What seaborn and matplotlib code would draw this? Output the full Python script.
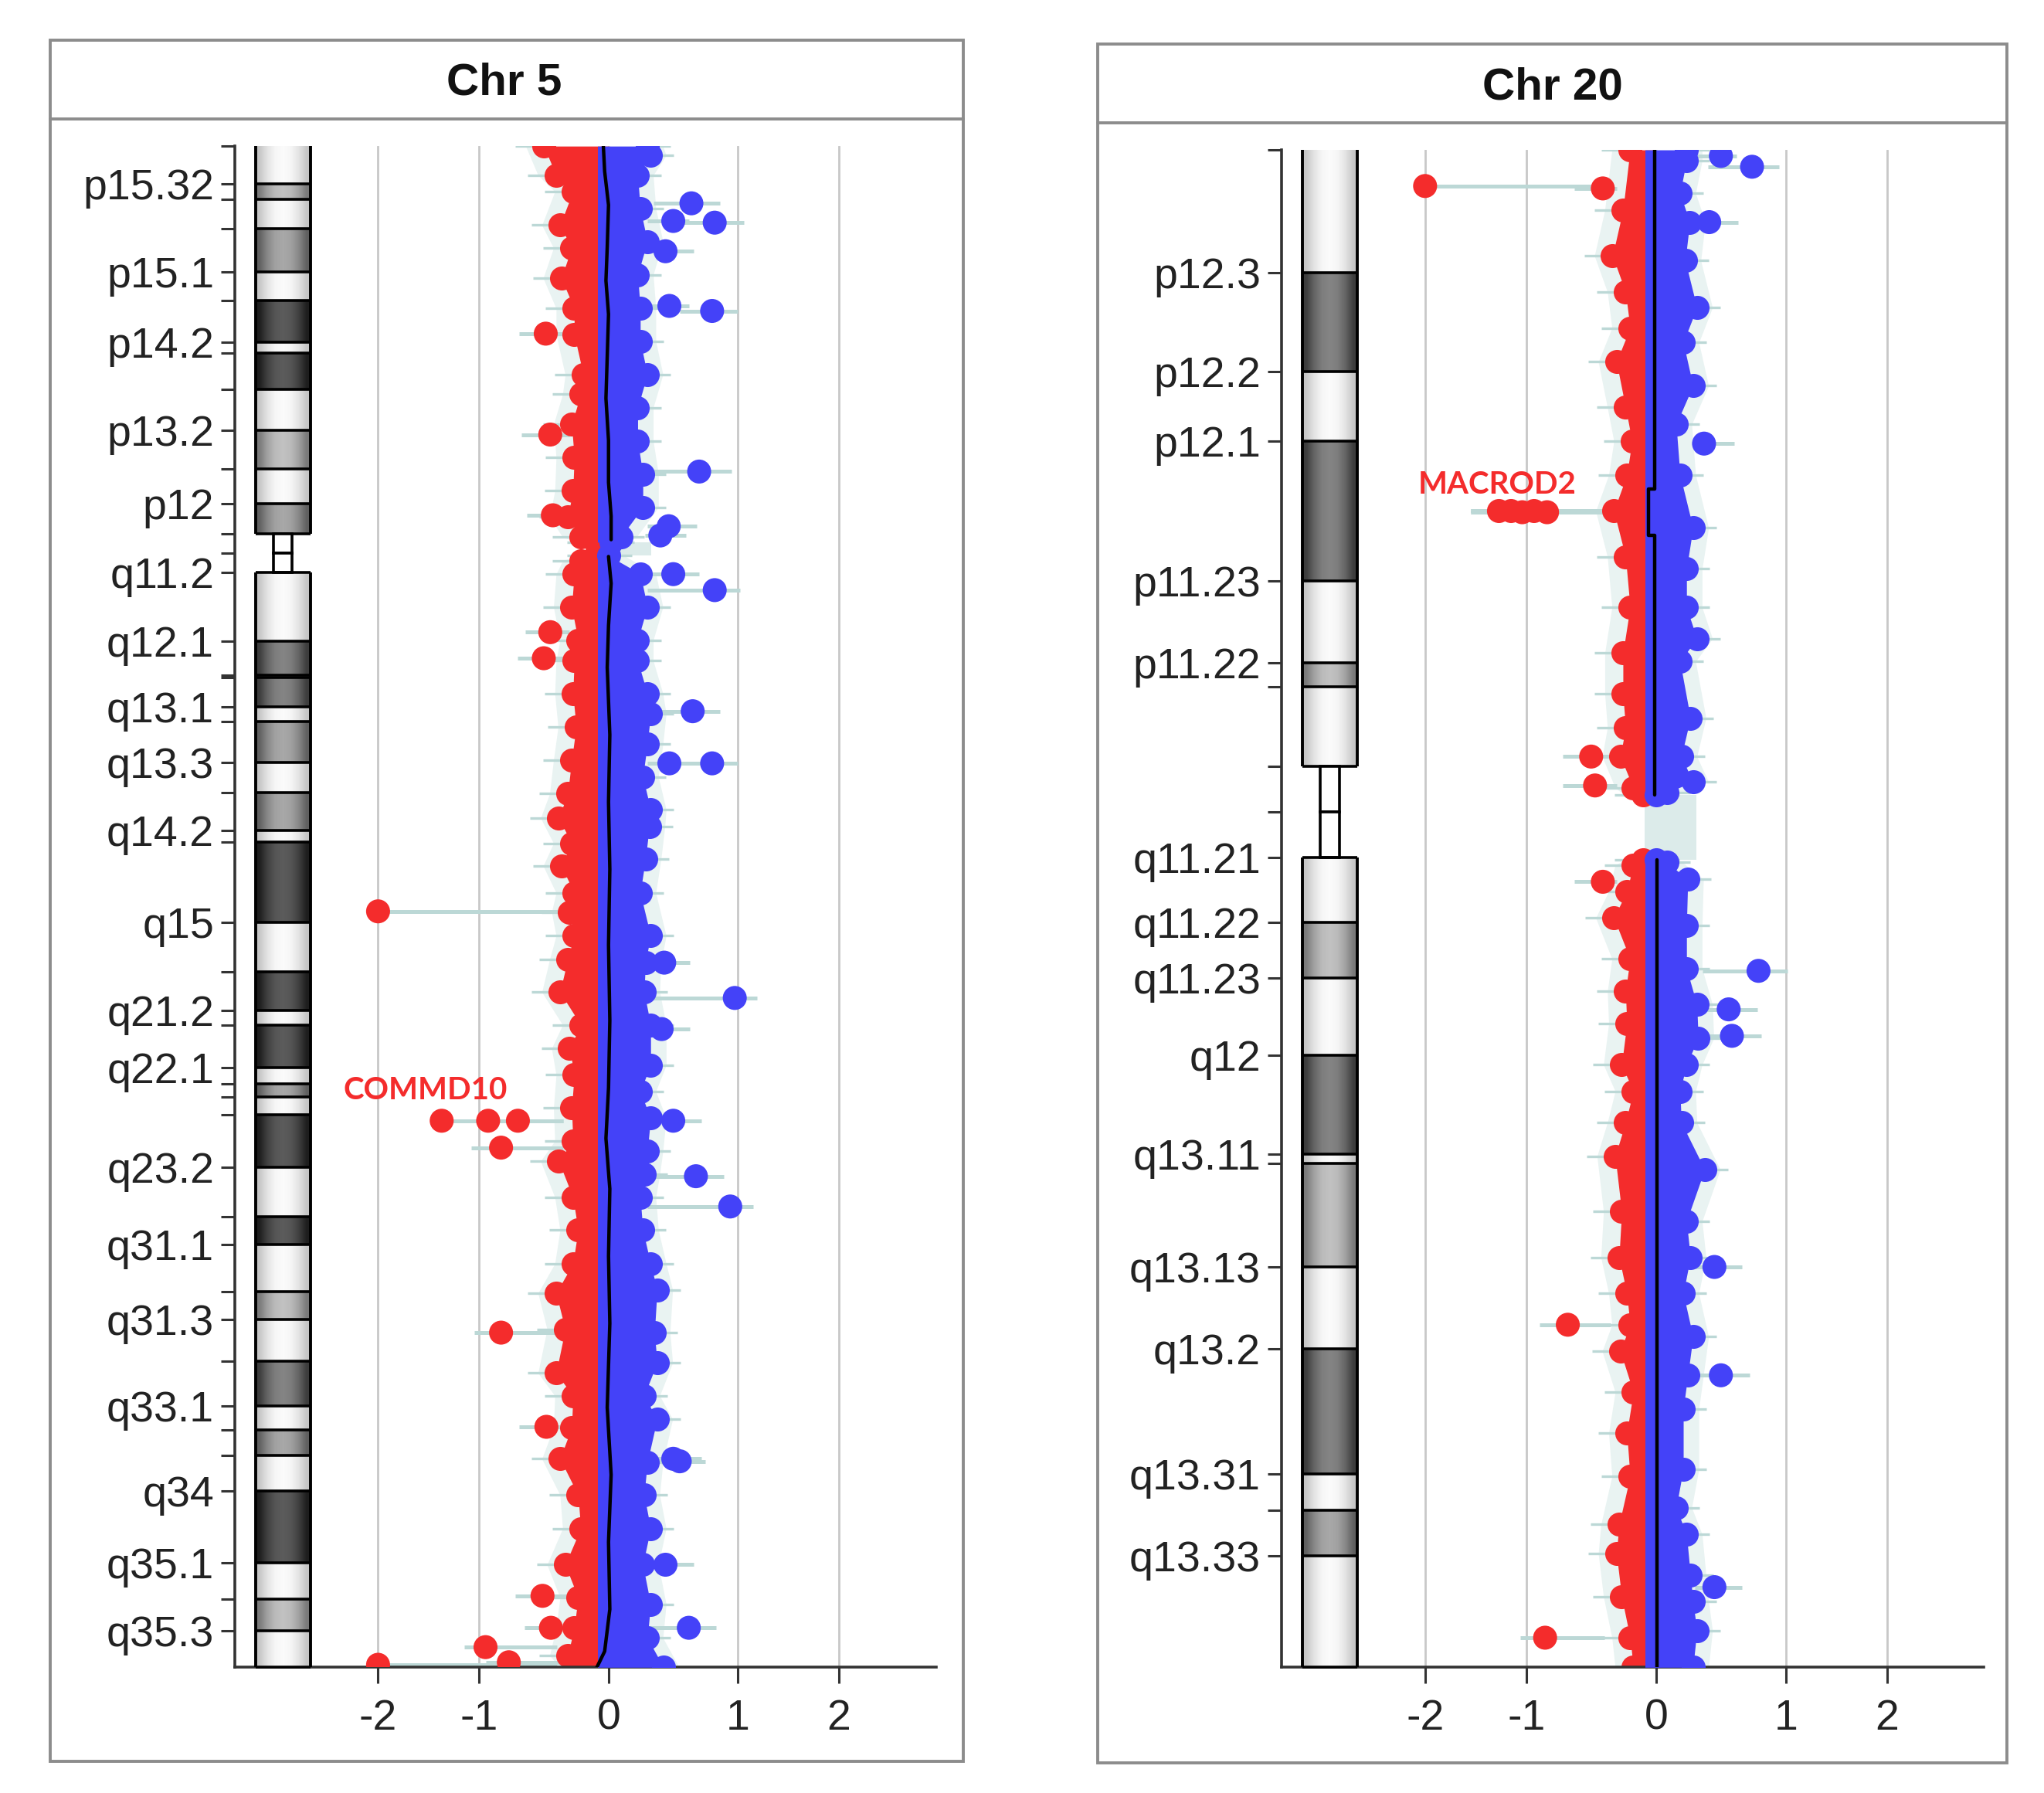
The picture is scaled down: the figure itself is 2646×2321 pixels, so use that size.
import numpy as np
import pandas as pd
import seaborn as sns
import matplotlib.pyplot as plt
from matplotlib.patches import Rectangle
from matplotlib.lines import Line2D

# ---------------- Chr 5 ----------------
# cytobands (start in Mb)
chr5_band_names = ['p15.33', 'p15.32', 'p15.31', 'p15.2', 'p15.1', 'p14.3', 'p14.2', 'p14.1', 'p13.3', 'p13.2',
                   'p13.1', 'p12', 'p11', 'q11.1', 'q11.2', 'q12.1', 'q12.2', 'q12.3', 'q13.1', 'q13.2',
                   'q13.3', 'q14.1', 'q14.2', 'q14.3', 'q15', 'q21.1', 'q21.2', 'q21.3', 'q22.1', 'q22.2',
                   'q22.3', 'q23.1', 'q23.2', 'q23.3', 'q31.1', 'q31.2', 'q31.3', 'q32', 'q33.1', 'q33.2',
                   'q33.3', 'q34', 'q35.1', 'q35.2', 'q35.3']
chr5_band_start = [0.0, 4.5, 6.3, 9.8, 15.0, 18.4, 23.3, 24.6, 28.9, 33.8,
                   38.4, 42.5, 46.1, 48.4, 50.7, 58.9, 62.9, 63.2, 66.7, 68.4,
                   73.3, 76.9, 81.4, 82.8, 92.3, 98.2, 102.8, 104.5, 109.6, 111.5,
                   113.1, 115.2, 121.4, 127.3, 130.6, 136.2, 139.5, 144.5, 149.8, 152.7,
                   155.7, 159.9, 168.5, 172.8, 176.6]
chr5_band_stain = ['gneg', 'gpos25', 'gneg', 'gpos50', 'gneg', 'gpos100', 'gneg', 'gpos100', 'gneg', 'gpos25',
                   'gneg', 'gpos50', 'acen', 'acen', 'gneg', 'gpos75', 'gneg', 'gpos75', 'gneg', 'gpos50',
                   'gneg', 'gpos50', 'gneg', 'gpos100', 'gneg', 'gpos100', 'gneg', 'gpos100', 'gneg', 'gpos50',
                   'gneg', 'gpos100', 'gneg', 'gpos100', 'gneg', 'gpos25', 'gneg', 'gpos75', 'gneg', 'gpos50',
                   'gneg', 'gpos100', 'gneg', 'gpos25', 'gneg']
chr5_length = 180.9
chr5_tick_names = ['p15.32', 'p15.1', 'p14.2', 'p13.2', 'p12', 'q11.2', 'q12.1', 'q13.1', 'q13.3', 'q14.2',
                   'q15', 'q21.2', 'q22.1', 'q23.2', 'q31.1', 'q31.3', 'q33.1', 'q34', 'q35.1', 'q35.3']

# outermost gene scores of the dense cloud (lowest / highest per window)
chr5_low_pos = [0.0, 3.45, 5.4, 9.4, 12.1, 15.7, 19.3, 22.4, 27.2, 29.5, 33.1, 37.0, 41.0, 44.1, 46.5, 47.1,
                48.7, 49.3, 50.9, 54.8, 58.75,
                61.2, 65.1, 69.1, 73.0, 77.0, 79.9, 82.9, 85.6, 88.8, 91.1, 93.9, 96.7, 100.6, 104.5, 107.3,
                110.45, 114.4, 118.3, 120.7,
                125.0, 128.9, 132.9, 136.4, 140.7, 145.9, 148.6, 152.4, 156.1, 160.4, 164.4, 168.7, 172.6,
                176.2, 179.5, 180.9]
chr5_low = [-0.50, -0.405, -0.275, -0.375, -0.285, -0.365, -0.265, -0.265, -0.195, -0.215, -0.285, -0.265,
            -0.275, -0.315, -0.215, -0.10,
            -0.10, -0.215, -0.265, -0.285, -0.235,
            -0.265, -0.275, -0.25, -0.285, -0.315, -0.385, -0.285, -0.365, -0.265, -0.30, -0.265, -0.315,
            -0.375, -0.215, -0.30, -0.265, -0.285, -0.275, -0.385,
            -0.275, -0.235, -0.275, -0.405, -0.335, -0.405, -0.275, -0.285, -0.375, -0.235, -0.215, -0.335,
            -0.235, -0.265, -0.315, -0.235]
chr5_high_pos = [0.0, 1.1, 3.45, 7.4, 11.35, 15.3, 19.25, 23.2, 27.15, 31.1, 35.05, 39.0, 42.95, 46.5, 47.1,
                 48.7, 50.85, 54.8, 58.75,
                 61.2, 65.1, 67.5, 71.1, 75.0, 78.9, 80.9, 84.8, 88.8, 93.9, 97.1, 100.6, 104.5, 109.3, 112.4,
                 115.6, 119.5, 122.3,
                 125.0, 128.9, 132.9, 136.0, 141.1, 144.7, 148.6, 151.4, 156.5, 160.4, 164.4, 168.7, 173.4,
                 177.4, 180.9]
chr5_high = [0.30, 0.325, 0.225, 0.245, 0.30, 0.225, 0.245, 0.245, 0.30, 0.225, 0.225, 0.265, 0.265, 0.095, 0.02,
             0.0, 0.245, 0.30, 0.225,
             0.225, 0.30, 0.325, 0.30, 0.265, 0.325, 0.315, 0.285, 0.245, 0.325, 0.285, 0.275, 0.325, 0.325,
             0.245, 0.325, 0.30, 0.275,
             0.245, 0.265, 0.325, 0.375, 0.355, 0.375, 0.275, 0.375, 0.30, 0.275, 0.325, 0.265, 0.325, 0.30, 0.425]
# running segment mean (black line)
chr5_mean_pos = [0.0, 3.0, 7.0, 12.0, 16.0, 20.0, 25.0, 30.0, 35.0, 40.0, 44.0, 46.8,
                 48.8, 52.0, 57.0, 62.0, 70.0, 78.0, 86.0, 95.0, 104.0, 112.0, 118.0, 124.0, 132.0, 140.0,
                 150.0, 158.0, 166.0, 174.0, 179.0, 180.9]
chr5_mean = [-0.04, -0.03, 0.0, -0.01, -0.02, 0.0, -0.01, -0.02, 0.0, 0.0, 0.02, 0.02,
             0.0, 0.02, 0.0, -0.01, 0.01, 0.0, 0.01, 0.0, 0.01, 0.0, -0.02, 0.01, 0.0, 0.01,
             -0.01, 0.02, 0.0, 0.01, -0.03, -0.09]
chr5_gap = [47.1, 48.7]
chr5_gap_x = [-0.05, 0.33]

# single outlying genes: position, score, CI low, CI high
chr5_out_pos = [6.8, 8.9, 9.1, 12.5, 19.0, 19.6, 38.7, 45.2, 46.3, 50.9, 52.8, 67.2, 73.4, 73.4, 97.1, 101.3,
                105.0, 115.9, 122.5, 126.1, 156.1, 156.4, 168.7, 176.2,
                22.3, 34.3, 43.9, 57.8, 60.9, 91.0, 115.9, 115.9, 115.9, 119.1, 141.1, 152.3, 172.4, 176.2,
                178.5, 180.3, 180.6]
chr5_out_val = [0.64, 0.50, 0.82, 0.44, 0.47, 0.80, 0.70, 0.465, 0.40, 0.50, 0.82, 0.65, 0.47, 0.80, 0.43, 0.975,
                0.41, 0.50, 0.675, 0.94, 0.50, 0.55, 0.44, 0.62,
                -0.485, -0.45, -0.43, -0.45, -0.50, -2.0, -1.37, -0.93, -0.70, -0.83, -0.83, -0.48, -0.51,
                -0.445, -0.95, -0.77, -2.0]
chr5_out_lo = [0.35, 0.30, 0.55, 0.30, 0.30, 0.55, 0.30, 0.30, 0.28, 0.30, 0.30, 0.30, 0.30, 0.50, 0.30, 0.30,
               0.30, 0.30, 0.35, 0.30, 0.30, 0.30, 0.30, 0.30,
               -0.69, -0.67, -0.63, -0.64, -0.70, -2.0, -1.45, -1.10, -0.90, -1.08, -1.05, -0.69, -0.72,
               -0.65, -1.15, -0.95, -2.0]
chr5_out_hi = [0.86, 0.62, 1.06, 0.66, 0.62, 1.00, 0.95, 0.68, 0.60, 0.70, 1.02, 0.86, 0.62, 1.00, 0.63, 1.19,
               0.63, 0.72, 0.89, 1.15, 0.72, 0.75, 0.66, 0.83,
               -0.30, -0.30, -0.30, -0.30, -0.30, -0.38, -0.35, -0.40, -0.35, -0.35, -0.35, -0.30, -0.30,
               -0.30, -0.40, -0.35, -0.40]
chr5_label = ('COMMD10', -1.53, 112.3)

# ---------------- Chr 20 ----------------
chr20_band_names = ['p13', 'p12.3', 'p12.2', 'p12.1', 'p11.23', 'p11.22', 'p11.21', 'p11.1', 'q11.1', 'q11.21',
                    'q11.22', 'q11.23', 'q12', 'q13.11', 'q13.12', 'q13.13', 'q13.2', 'q13.31', 'q13.32', 'q13.33']
chr20_band_start = [0.0, 5.1, 9.2, 12.1, 17.9, 21.3, 22.3, 25.6, 27.5, 29.4,
                    32.1, 34.4, 37.6, 41.7, 42.1, 46.4, 49.8, 55.0, 56.5, 58.4]
chr20_band_stain = ['gneg', 'gpos75', 'gneg', 'gpos75', 'gneg', 'gpos25', 'gneg', 'acen', 'acen', 'gneg',
                    'gpos25', 'gneg', 'gpos75', 'gneg', 'gpos25', 'gneg', 'gpos75', 'gneg', 'gpos50', 'gneg']
chr20_length = 63.03
chr20_tick_names = ['p12.3', 'p12.2', 'p12.1', 'p11.23', 'p11.22', 'q11.21', 'q11.22', 'q11.23', 'q12',
                    'q13.11', 'q13.13', 'q13.2', 'q13.31', 'q13.33']

chr20_low_pos = [0.0, 2.5, 4.4, 5.9, 7.4, 8.8, 10.7, 12.1, 13.5, 15.0, 16.9, 19.0, 20.9, 22.6, 24.0, 25.2,
                 26.5, 26.8,
                 29.5, 29.7, 30.8, 31.9, 33.6, 34.95, 36.3, 38.0, 39.1, 40.4, 41.8,
                 44.1, 46.0, 47.5, 48.8, 49.9, 51.6, 53.3, 55.1, 57.1, 58.3, 60.1, 61.8, 63.03]
chr20_low = [-0.20, -0.255, -0.335, -0.235, -0.20, -0.305, -0.235, -0.185, -0.225, -0.325, -0.235, -0.20,
             -0.255, -0.255, -0.235, -0.275, -0.175, -0.10,
             -0.10, -0.175, -0.225, -0.325, -0.20, -0.235, -0.225, -0.265, -0.175, -0.235, -0.315,
             -0.265, -0.285, -0.225, -0.20, -0.275, -0.175, -0.225, -0.20, -0.285, -0.305, -0.265, -0.20, -0.175]
chr20_high_pos = [0.0, 0.45, 1.8, 3.0, 4.6, 6.55, 8.0, 9.8, 11.4, 13.5, 15.7, 17.4, 19.0, 20.3, 21.25, 23.6,
                  25.2, 26.25, 26.7, 26.8,
                  29.5, 29.6, 30.3, 32.2, 34.0, 35.5, 36.9, 38.0, 39.1, 40.4, 42.35,
                  44.5, 46.0, 47.5, 49.3, 50.9, 52.3, 54.8, 56.4, 57.5, 59.2, 60.3, 61.5, 63.03]
chr20_high = [0.235, 0.235, 0.185, 0.26, 0.225, 0.315, 0.21, 0.285, 0.155, 0.185, 0.285, 0.235, 0.235, 0.315,
              0.185, 0.265, 0.195, 0.285, 0.085, 0.0,
              0.0, 0.085, 0.245, 0.235, 0.235, 0.315, 0.325, 0.235, 0.185, 0.195, 0.375,
              0.235, 0.265, 0.21, 0.285, 0.245, 0.21, 0.21, 0.155, 0.235, 0.265, 0.285, 0.315, 0.285]
chr20_mean_pos = [0.0, 14.1, 14.1, 16.0, 16.0, 26.8, 29.5, 63.03]
chr20_mean = [-0.01, -0.01, -0.06, -0.06, -0.01, -0.01, 0.01, 0.01]
chr20_gap = [26.8, 29.5]
chr20_gap_x = [-0.085, 0.31]

chr20_out_pos = [0.25, 0.7, 3.0, 12.2, 34.1, 35.7, 36.8, 46.4, 50.9, 59.7,
                 1.5, 1.6, 15.0, 15.0, 15.05, 15.0, 15.05, 25.2, 26.4, 30.4, 48.8, 61.8]
chr20_out_val = [0.50, 0.74, 0.41, 0.37, 0.79, 0.56, 0.585, 0.45, 0.50, 0.45,
                 -2.0, -0.41, -1.27, -1.15, -1.04, -0.94, -0.84, -0.50, -0.47, -0.41, -0.68, -0.855]
chr20_out_lo = [0.30, 0.40, 0.30, 0.28, 0.36, 0.35, 0.35, 0.30, 0.30, 0.30,
                -2.0, -0.63, -1.55, -1.55, -1.55, -1.55, -1.55, -0.72, -0.72, -0.63, -0.90, -1.06]
chr20_out_hi = [0.62, 0.95, 0.63, 0.60, 1.02, 0.78, 0.81, 0.66, 0.72, 0.66,
                -0.41, -0.30, -0.40, -0.40, -0.40, -0.40, -0.40, -0.30, -0.30, -0.30, -0.35, -0.40]
chr20_label = ('MACROD2', -1.29, 13.9)

# ---------------- style ----------------
RED = '#f42c2c'
BLUE = '#4442f8'
CI_C = '#bcd8d6'
HALO_C = '#e9f3f2'
GAP_C = '#dcebea'
GRID_C = '#c8c8c8'
AX_C = '#333333'
BOX_C = '#8c8c8c'
OUTER = 0.78      # compression of the axis beyond |x| = 1
S = 125
SPLIT = -0.085
stain_shade = {'gneg': (0.78, 0.985), 'gpos25': (0.48, 0.76), 'gpos50': (0.38, 0.66),
               'gpos75': (0.24, 0.52), 'gpos100': (0.12, 0.36)}
shade_profile = np.array([0.0, 0.55, 0.9, 1.0, 0.9, 0.55, 0.0])

sns.set_style('ticks')
plt.rcParams['font.family'] = ['Liberation Sans', 'DejaVu Sans']
plt.rcParams['axes.unicode_minus'] = False


def fwd(x):
    x = np.asarray(x, dtype=float)
    return np.where(np.abs(x) <= 1, x, np.sign(x) * (1 + OUTER * (np.abs(x) - 1)))


def inv(y):
    y = np.asarray(y, dtype=float)
    return np.where(np.abs(y) <= 1, y, np.sign(y) * (1 + (np.abs(y) - 1) / OUTER))


def arms(pos, gap):
    pos = np.asarray(pos)
    return [pos <= gap[0], pos >= gap[1]]


def draw_ideogram(ax, starts, stains, length):
    ideo = ax.inset_axes([0.030, 0.0, 0.078, 1.0])
    ends = list(starts[1:]) + [length]
    acen = [i for i, s in enumerate(stains) if s == 'acen']
    for i, (s0, s1, st) in enumerate(zip(starts, ends, stains)):
        if st == 'acen':
            ideo.add_patch(Rectangle((0.33, s0), 0.34, s1 - s0, facecolor='white', edgecolor='black',
                                     lw=1.3, clip_on=False, zorder=2))
            continue
        lo, hi = stain_shade[st]
        g = lo + (hi - lo) * shade_profile
        img = np.dstack([g, g, g])
        ideo.imshow(img, extent=(0, 1, s1, s0), aspect='auto', interpolation='bilinear', zorder=1)
        ideo.hlines(s1, 0, 1, color='black', lw=1.3, clip_on=False, zorder=2)
        if i - 1 in acen:
            ideo.hlines(s0, 0, 1, color='black', lw=1.3, clip_on=False, zorder=2)
    p_end = starts[acen[0]]
    q_start = ends[acen[-1]]
    ideo.vlines([0, 1], 0, p_end, color='black', lw=1.4, clip_on=False, zorder=2)
    ideo.vlines([0, 1], q_start, length, color='black', lw=1.4, clip_on=False, zorder=2)
    ideo.set_xlim(0, 1)
    ideo.set_ylim(length, 0)
    ideo.axis('off')


def draw_panel(ax, names, starts, stains, length, tick_names, low_pos, low, high_pos, high,
               mean_pos, mean, gap, gap_x, o_pos, o_val, o_lo, o_hi, label):
    ax.set_xscale('function', functions=(fwd, inv))
    lp, lv = np.asarray(low_pos), np.asarray(low)
    hp, hv = np.asarray(high_pos), np.asarray(high)
    mp, mv = np.asarray(mean_pos), np.asarray(mean)

    ax.fill_betweenx(gap, gap_x[0], gap_x[1], color=GAP_C, lw=0, zorder=0.9)

    # negative half of the cloud
    for m in arms(lp, gap):
        ax.fill_betweenx(lp[m], lv[m] - 0.14, 0, color=HALO_C, lw=0, zorder=1)
        ax.fill_betweenx(lp[m], lv[m], 0, color=RED, lw=0, zorder=2)
    ax.hlines(lp, lv - 0.22, lv, color=CI_C, lw=1.2, zorder=1.2)
    sns.scatterplot(x=lv, y=lp, color=RED, s=S, linewidth=0, ax=ax, zorder=2)

    # positive half of the cloud
    for m in arms(hp, gap):
        ax.fill_betweenx(hp[m], 0, hv[m] + 0.12, color=HALO_C, lw=0, zorder=1)
        ax.fill_betweenx(hp[m], SPLIT, hv[m], color=BLUE, lw=0, zorder=3)
    ax.hlines(hp, hv, hv + 0.18, color=CI_C, lw=1.2, zorder=1.2)
    sns.scatterplot(x=hv, y=hp, color=BLUE, s=S, linewidth=0, ax=ax, zorder=3)

    # outliers with their intervals
    ax.hlines(o_pos, o_lo, o_hi, color=CI_C, lw=1.8, zorder=1.5)
    out = pd.DataFrame({'pos': o_pos, 'val': o_val})
    out['side'] = np.where(out['val'] < 0, 'down', 'up')
    sns.scatterplot(data=out, x='val', y='pos', hue='side', palette={'down': RED, 'up': BLUE},
                    s=S, linewidth=0, legend=False, ax=ax, zorder=3.5)

    for m in arms(mp, gap):
        sns.lineplot(x=mv[m], y=mp[m], orient='y', sort=False, estimator=None, color='black',
                     linewidth=1.6, ax=ax, zorder=4)

    ax.text(label[1], label[2], label[0], color=RED, fontsize=14.5, fontweight='bold',
            family=['Lato', 'DejaVu Sans'], ha='center', va='center', zorder=5)

    draw_ideogram(ax, starts, stains, length)

    ax.set_xlim(-3.42, 2.96)
    ax.set_ylim(length, 0)
    ax.set_xticks([-2, -1, 0, 1, 2], ['-2', '-1', '0', '1', '2'])
    ax.set_yticks([starts[names.index(n)] for n in tick_names], tick_names)
    ax.set_yticks(starts, minor=True)
    ax.set_xlabel('')
    ax.set_ylabel('')
    ax.grid(True, axis='x', which='major', color=GRID_C, lw=1.0)
    ax.set_axisbelow(True)
    for sp in ['top', 'right']:
        ax.spines[sp].set_visible(False)
    for sp in ['left', 'bottom']:
        ax.spines[sp].set_color(AX_C)
        ax.spines[sp].set_linewidth(1.3)
    ax.tick_params(axis='y', which='both', direction='out', length=6.6, width=1.1, color=AX_C,
                   labelsize=20, pad=3, labelcolor='#222222')
    ax.tick_params(axis='x', which='major', direction='out', length=7.5, width=1.1, color=AX_C,
                   labelsize=20, pad=7, labelcolor='#222222')
    ax.tick_params(axis='x', which='minor', bottom=False)


fig = plt.figure(figsize=(13.23, 11.605), dpi=200)
ax5 = fig.add_axes([0.1148, 0.0701, 0.3431, 0.8484])
ax20 = fig.add_axes([0.6269, 0.0701, 0.3438, 0.8463])

draw_panel(ax5, chr5_band_names, chr5_band_start, chr5_band_stain, chr5_length, chr5_tick_names,
           chr5_low_pos, chr5_low, chr5_high_pos, chr5_high, chr5_mean_pos, chr5_mean, chr5_gap, chr5_gap_x,
           chr5_out_pos, chr5_out_val, chr5_out_lo, chr5_out_hi, chr5_label)
draw_panel(ax20, chr20_band_names, chr20_band_start, chr20_band_stain, chr20_length, chr20_tick_names,
           chr20_low_pos, chr20_low, chr20_high_pos, chr20_high, chr20_mean_pos, chr20_mean, chr20_gap,
           chr20_gap_x, chr20_out_pos, chr20_out_val, chr20_out_lo, chr20_out_hi, chr20_label)

# panel frames with title strips
for (x0, y0, w, h, ysep, tx, ty, title) in [(0.0246, 0.0175, 0.4467, 0.9603, 0.9335, 0.2468, 0.9538, 'Chr 5'),
                                            (0.5370, 0.0167, 0.4450, 0.9586, 0.9313, 0.7595, 0.9512, 'Chr 20')]:
    fig.add_artist(Rectangle((x0, y0), w, h, transform=fig.transFigure, fill=False, edgecolor=BOX_C, lw=1.4))
    fig.add_artist(Line2D([x0, x0 + w], [ysep, ysep], transform=fig.transFigure, color=BOX_C, lw=1.4))
    fig.text(tx, ty, title, ha='center', va='center', fontsize=21, fontweight='bold', color='#111111')

fig.savefig('out.png', dpi=200)
